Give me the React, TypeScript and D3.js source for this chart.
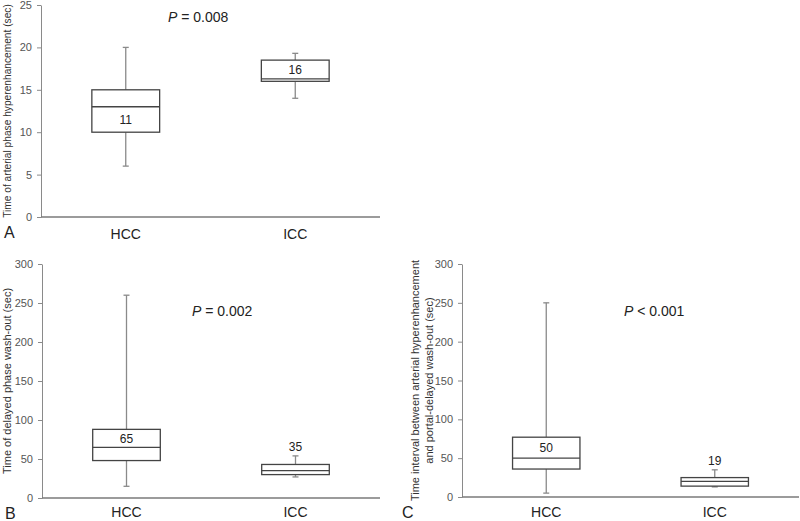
import React, { useEffect, useRef } from 'react';
import * as d3 from 'd3';

// groups on the x axis
const groups = ['HCC', 'ICC'];

// box stats per group: [min, q1, median, q3, max]
const arterialStats = [[6, 10, 13, 15, 20], [14, 16, 16.3, 18.5, 19.3]];
const arterialLabels = ['11', '16'];

const delayedStats = [[15, 48, 65, 88, 260], [27, 30, 35, 43, 54]];
const delayedLabels = ['65', '35'];

const intervalStats = [[5, 36, 50, 77, 250], [13, 14, 20, 25, 35]];
const intervalLabels = ['50', '19'];

const arterialTicks = [0, 5, 10, 15, 20, 25];
const washTicks = [0, 50, 100, 150, 200, 250, 300];

const FONT = 'Liberation Sans, Arial, sans-serif';

const App = () => {
  const svgRef = useRef<SVGSVGElement>(null);

  useEffect(() => {
    const svg = d3.select(svgRef.current);
    svg.selectAll('*').remove();

    const drawPanel = (opts: any) => {
      const { left, right, top, bottom, ymax, ticks, stats, labels, labelMode, title, titleSize, letter, pText, pX, pY, titleX, letterX, catGap } = opts;

      const x = d3.scaleBand<string>().domain(groups).range([left, right]).padding(0);
      const y = d3.scaleLinear().domain([0, ymax]).range([bottom, top]);
      const g = svg.append('g');

      // y axis
      const ax = g.append('g')
        .attr('transform', `translate(${left},0)`)
        .call(d3.axisLeft(y).tickValues(ticks).tickSize(4).tickSizeOuter(0).tickPadding(5));
      ax.select('.domain').attr('stroke', '#8a8a8a');
      ax.selectAll('.tick line').attr('stroke', '#8a8a8a');
      ax.selectAll('.tick text').attr('fill', '#555').attr('font-size', 11).attr('font-family', FONT);

      // x axis line
      g.append('line')
        .attr('x1', left).attr('x2', right)
        .attr('y1', bottom).attr('y2', bottom)
        .attr('stroke', '#7a7a7a').attr('stroke-width', 1.5);

      // category labels
      g.selectAll('.cat').data(groups).enter().append('text')
        .attr('x', d => x(d)! + x.bandwidth() / 2)
        .attr('y', bottom + catGap)
        .attr('text-anchor', 'middle')
        .attr('font-size', 14).attr('font-family', FONT).attr('fill', '#222')
        .text(d => d);

      const bw = x.bandwidth() * 0.4;

      stats.forEach((s: number[], i: number) => {
        const cx = x(groups[i])! + x.bandwidth() / 2;
        const [mn, q1, med, q3, mx] = s;
        // whiskers
        g.append('line').attr('x1', cx).attr('x2', cx).attr('y1', y(mx)).attr('y2', y(q3))
          .attr('stroke', '#8a8a8a').attr('stroke-width', 1.3);
        g.append('line').attr('x1', cx).attr('x2', cx).attr('y1', y(q1)).attr('y2', y(mn))
          .attr('stroke', '#8a8a8a').attr('stroke-width', 1.3);
        [mx, mn].forEach(v => {
          g.append('line').attr('x1', cx - 3).attr('x2', cx + 3).attr('y1', y(v)).attr('y2', y(v))
            .attr('stroke', '#8a8a8a').attr('stroke-width', 1.3);
        });
        // box
        g.append('rect')
          .attr('x', cx - bw / 2).attr('width', bw)
          .attr('y', y(q3)).attr('height', y(q1) - y(q3))
          .attr('fill', 'white').attr('stroke', '#444').attr('stroke-width', 1.3);
        g.append('line').attr('x1', cx - bw / 2).attr('x2', cx + bw / 2).attr('y1', y(med)).attr('y2', y(med))
          .attr('stroke', '#444').attr('stroke-width', 1.3);

        // value label
        let ly;
        if (labelMode[i] === 'below') ly = (y(med) + y(q1)) / 2;
        else if (labelMode[i] === 'above') ly = (y(med) + y(q3)) / 2;
        else ly = y(mx) - 9;
        g.append('text')
          .attr('x', cx).attr('y', ly).attr('dy', '0.35em')
          .attr('text-anchor', 'middle')
          .attr('font-size', 12).attr('font-family', FONT).attr('fill', '#222')
          .text(labels[i]);
      });

      // y title
      const tt = g.append('text')
        .attr('transform', `translate(${titleX},${(top + bottom) / 2}) rotate(-90)`)
        .attr('text-anchor', 'middle')
        .attr('font-size', titleSize).attr('font-family', FONT).attr('fill', '#333');
      title.forEach((line: string, k: number) => {
        tt.append('tspan').attr('x', 0).attr('dy', k === 0 ? 0 : '1.25em').text(line);
      });

      // panel letter
      g.append('text')
        .attr('x', letterX).attr('y', bottom + 21)
        .attr('font-size', 16).attr('font-family', FONT).attr('fill', '#222')
        .text(letter);

      // p value
      const pt = g.append('text')
        .attr('x', pX).attr('y', pY)
        .attr('font-size', 14).attr('font-family', FONT).attr('fill', '#222');
      pt.append('tspan').attr('font-style', 'italic').text('P');
      pt.append('tspan').text(pText);
    };

    drawPanel({
      left: 41, right: 380, top: 5, bottom: 217, ymax: 25, ticks: arterialTicks,
      stats: arterialStats, labels: arterialLabels, labelMode: ['below', 'above'],
      title: ['Time of arterial phase hyperenhancement (sec)'], titleSize: 10.2,
      letter: 'A', letterX: 4, titleX: 11, pText: ' = 0.008', pX: 168, pY: 22, catGap: 22
    });
    drawPanel({
      left: 42, right: 380, top: 264, bottom: 498, ymax: 300, ticks: washTicks,
      stats: delayedStats, labels: delayedLabels, labelMode: ['above', 'top'],
      title: ['Time of delayed phase wash-out (sec)'], titleSize: 11,
      letter: 'B', letterX: 5, titleX: 11, pText: ' = 0.002', pX: 192, pY: 316, catGap: 19
    });
    drawPanel({
      left: 462, right: 799, top: 264, bottom: 497, ymax: 300, ticks: washTicks,
      stats: intervalStats, labels: intervalLabels, labelMode: ['above', 'top'],
      title: ['Time interval between arterial hyperenhancement', 'and portal-delayed wash-out (sec)'], titleSize: 11,
      letter: 'C', letterX: 402, titleX: 419, pText: ' < 0.001', pX: 624, pY: 316, catGap: 20
    });
  }, []);

  return (
    <svg ref={svgRef} width={800} height={521}
      style={{ position: 'absolute', left: 0, top: 0, background: 'white' }} />
  );
};

export default App;
